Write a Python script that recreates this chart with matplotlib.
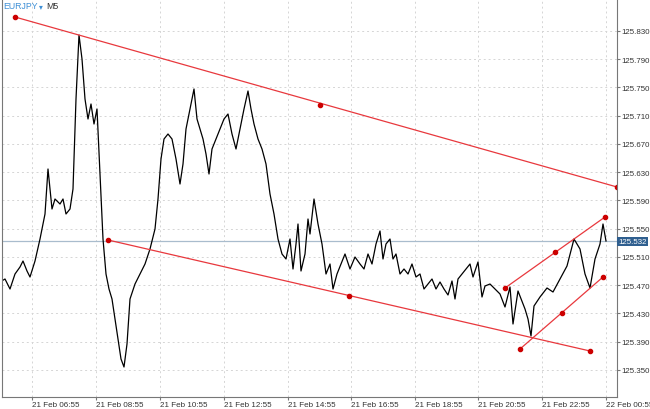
import matplotlib.pyplot as plt

plt.rcParams['font.family'] = ['Liberation Sans', 'DejaVu Sans']

# price readout (pixel x, pixel y) pairs from the chart, converted below
readout = [(0,283),(5,280),(10,290),(15,275),(20,268),(23,262),(27,272),(30,278),(35,262),(40,240),
           (45,215),(48,170),(52,210),(55,200),(60,205),(63,200),(66,215),(70,210),(73,190),(76,100),
           (79,36),(82,60),(85,100),(88,120),(91,105),(94,125),(97,110),(100,175),(103,240),(106,275),
           (109,290),(112,300),(115,320),(118,340),(121,360),(124,368),(127,345),(130,300),(135,285),
           (140,275),(145,265),(150,250),(155,230),(158,200),(161,160),(164,140),(168,135),(172,140),
           (176,160),(180,185),(183,165),(186,130),(190,110),(194,90),(197,120),(200,130),(203,140),
           (206,155),(209,175),(212,150),(216,140),(220,130),(224,120),(228,115),(232,135),(236,150),
           (240,130),(244,110),(248,92),(251,110),(254,125),(258,140),(262,150),(266,165),(270,195),
           (274,215),(278,240),(282,255),(286,260),(290,240),(293,270),(296,245),(298,225),(301,272),
           (305,255),(308,220),(310,235),(314,200),(318,225),(322,245),(326,275),(330,265),(333,290),
           (337,275),(341,265),(345,255),(350,270),(355,258),(360,265),(364,270),(368,255),(372,265),
           (376,245),(380,232),(383,260),(386,245),(390,240),(393,260),(396,255),(400,275),(404,270),
           (408,275),(412,265),(416,278),(420,275),(424,290),(428,285),(432,280),(436,290),(440,283),
           (444,290),(448,296),(452,282),(455,300),(458,280),(462,275),(466,270),(470,265),(473,278),
           (478,263),(482,298),(485,287),(490,285),(500,295),(505,308),(510,288),(513,325),(518,292),
           (525,310),(528,320),(531,337),(534,307),(540,298),(547,289),(553,293),(560,280),(567,267),
           (574,240),(580,250),(585,275),(590,289),(595,260),(600,245),(603,225),(606,242)]

def to_price(y):
    return 125.830 - (y - 32) / 706.0

bars = [p[0] / 3.0 for p in readout]
prices = [to_price(p[1]) for p in readout]

# trend lines drawn on the chart (bar, pixel-y) incl. middle handle
lines = [
    ([15/3, 320/3, 617/3], [18, 106, 188]),
    ([108/3, 349/3, 590/3], [241, 297, 352]),
    ([505/3, 555/3, 605/3], [289, 253, 218]),
    ([520/3, 562/3, 603/3], [350, 314, 278]),
]
yticks = [125.350 + 0.04 * i for i in range(13)]
xtick_pos = [32/3, 96/3, 160/3, 224/3, 288/3, 351/3, 415/3, 478/3, 542/3, 606/3]
xtick_lab = ['21 Feb 06:55', '21 Feb 08:55', '21 Feb 10:55', '21 Feb 12:55', '21 Feb 14:55',
             '21 Feb 16:55', '21 Feb 18:55', '21 Feb 20:55', '21 Feb 22:55', '22 Feb 00:55']
last_price = 125.532

fig = plt.figure(figsize=(6.5, 4.1), dpi=100)
ax = fig.add_axes([2/650, 12/410, 615/650, 398/410])
ax.set_xlim(2/3, 617/3)
ax.set_ylim(to_price(398), to_price(0))

ax.grid(True, color='#d5d5d5', linestyle=(0, (2, 3)), linewidth=0.7)
ax.axhline(last_price, color='#a9bccd', linewidth=0.9)
ax.plot(bars, prices, color='black', linewidth=0.9)
for xs, ys in lines:
    ys_p = [to_price(v) for v in ys]
    ax.plot([xs[0], xs[2]], [ys_p[0], ys_p[2]], color='#e8383d', linewidth=0.9)
    ax.plot(xs, ys_p, 'o', color='#cc0000', markersize=3)

ax.yaxis.tick_right()
ax.set_yticks(yticks)
ax.set_yticklabels(['%.3f' % v for v in yticks], fontsize=5.7, color='#333333')
ax.set_xticks(xtick_pos)
ax.set_xticklabels(xtick_lab, fontsize=5.8, color='#333333', ha='left')
ax.tick_params(length=2, color='#777777', pad=1)
ax.spines['top'].set_visible(False)
for s in ['right', 'bottom', 'left']:
    ax.spines[s].set_color('#777777')

ax.text(1.002, last_price, '%.3f' % last_price, transform=ax.get_yaxis_transform(),
        fontsize=5.7, color='white', va='center', ha='left',
        bbox=dict(boxstyle='square,pad=0.12', fc='#2f5f8f', ec='none'))
ax.text(1/615, 0.995, 'EURJPY', transform=ax.transAxes, fontsize=6.3, color='#3d8fd6', va='top')
ax.text(37/615, 0.995, '\u25be', transform=ax.transAxes, fontsize=5.5, color='#3d8fd6', va='top',
        family='DejaVu Sans')
ax.text(44/615, 0.995, 'M5', transform=ax.transAxes, fontsize=6.3, color='#333333', va='top')

fig.savefig('out.png', dpi=100)
